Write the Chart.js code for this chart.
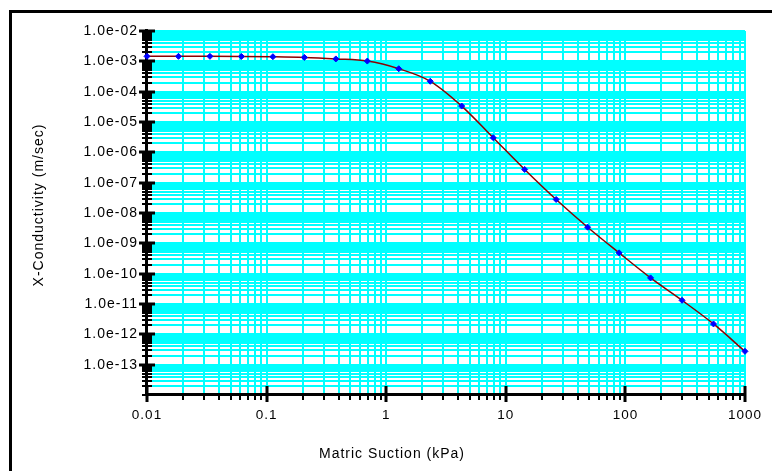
<!DOCTYPE html>
<html>
<head>
<meta charset="utf-8">
<script src="https://cdn.jsdelivr.net/npm/chart.js@4.4.1/dist/chart.umd.min.js"></script>
<style>
  html, body { margin: 0; padding: 0; background: #fff; overflow: hidden; }
  #marco { position: absolute; left: 9px; top: 10px; width: 800px; height: 500px; border-left: 3px solid #000; border-top: 3px solid #000; }
  #grafico { position: absolute; left: 0; top: 0; }
  .titulo { position: absolute; font: 14px "Liberation Sans", Arial, sans-serif; letter-spacing: 1px; color: #000; white-space: nowrap; text-align: center; width: 240px; line-height: 16px; }
  #tituloX { left: 272px; top: 445px; }
  #tituloY { left: -82px; top: 197px; transform: rotate(-90deg); }
</style>
</head>
<body>
<div id="marco"></div>
<canvas id="grafico" width="772" height="471"></canvas>
<div id="tituloX" class="titulo">Matric Suction (kPa)</div>
<div id="tituloY" class="titulo">X-Conductivity (m/sec)</div>
<script>
// Datos
const succion = [0.01, 0.01833, 0.0336, 0.06158, 0.1129, 0.2069, 0.3793, 0.6952, 1.274, 2.336,
                 4.281, 7.848, 14.38, 26.37, 48.33, 88.59, 162.4, 297.6, 545.6, 1000];
const conductividad = [1.46e-3, 1.46e-3, 1.46e-3, 1.45e-3, 1.42e-3, 1.35e-3, 1.2e-3, 1.02e-3, 5.7e-4, 2.2e-4,
                       3.35e-5, 3.03e-6, 2.73e-7, 2.79e-8, 3.4e-9, 4.85e-10, 7.26e-11, 1.32e-11, 2.2e-12, 2.75e-13];

// Marcas de los ejes
const mayoresX = [0.01, 0.1, 1, 10, 100, 1000];
const etiquetasX = ['0.01', '0.1', '1', '10', '100', '1000'];
const mayoresY = [1e-13, 1e-12, 1e-11, 1e-10, 1e-9, 1e-8, 1e-7, 1e-6, 1e-5, 1e-4, 1e-3, 1e-2];
const etiquetasY = ['1.0e-13', '1.0e-12', '1.0e-11', '1.0e-10', '1.0e-09', '1.0e-08', '1.0e-07',
                    '1.0e-06', '1.0e-05', '1.0e-04', '1.0e-03', '1.0e-02'];
const multiplicadores = [1, 2, 3, 4, 5, 6, 7, 8, 9];

const fuente = '"Liberation Sans", Arial, sans-serif';

// Lista de marcas 1..9 por década
function construirTicks(expMin, expMax) {
    const lista = [];
    for (let e = expMin; e < expMax; e++) {
        multiplicadores.forEach(function (m) {
            lista.push(Number(m + 'e' + e));
        });
    }
    lista.push(Number('1e' + expMax));
    return lista;
}

const ticksX = construirTicks(-2, 3);
const ticksY = construirTicks(-14, -2);

// Espaciado de letras como en el original
const espaciado = {
    id: 'espaciado',
    beforeDraw(chart) {
        chart.ctx.letterSpacing = '1px';
    }
};

// Ejes negros con marcas mayores y menores
const ejes = {
    id: 'ejes',
    beforeDatasetsDraw(chart) {
        const ctx = chart.ctx;
        const area = chart.chartArea;
        const x = chart.scales.x;
        const y = chart.scales.y;
        const x0 = x.getPixelForValue(0.01);
        const y0 = area.bottom;
        ctx.save();
        ctx.fillStyle = '#000';
        ctx.fillRect(x0 - 2, area.top - 2, 3, y0 - area.top + 3);
        ctx.fillRect(x0 - 2, y0 - 2, area.right - x0 + 3, 3);
        ticksY.forEach(function (v) {
            const py = Math.round(y.getPixelForValue(v));
            if (mayoresY.indexOf(v) >= 0) {
                ctx.fillRect(x0 - 8, py - 1.5, 16, 3);
            } else {
                ctx.fillRect(x0 - 5, py - 1, 10, 2);
            }
        });
        ticksX.forEach(function (v) {
            const px = Math.round(x.getPixelForValue(v));
            if (mayoresX.indexOf(v) >= 0) {
                ctx.fillRect(px - 1.5, y0 - 9, 3, 16);
            } else {
                ctx.fillRect(px - 1, y0 - 2, 2, 7);
            }
        });
        ctx.restore();
    }
};

const ctxGrafico = document.getElementById('grafico').getContext('2d');
const grafico = new Chart(ctxGrafico, {
    type: 'line',
    data: {
        datasets: [{
            data: succion.map(function (s, i) { return { x: s, y: conductividad[i] }; }),
            borderColor: '#8B0000',
            borderWidth: 1.5,
            cubicInterpolationMode: 'monotone',
            pointStyle: 'rectRot',
            pointRadius: 3,
            pointBackgroundColor: '#0000FF',
            pointBorderColor: '#0000FF',
            pointBorderWidth: 1,
            clip: false
        }]
    },
    options: {
        responsive: false,
        animation: false,
        devicePixelRatio: 1,
        layout: { padding: { top: 31, right: 27, left: 0, bottom: 0 } },
        plugins: {
            legend: { display: false },
            tooltip: { enabled: false }
        },
        scales: {
            x: {
                type: 'logarithmic',
                min: 0.01,
                max: 1000,
                afterBuildTicks: function (escala) {
                    escala.ticks = ticksX.map(function (v) { return { value: v }; });
                },
                afterFit: function (escala) { escala.height = 76; },
                grid: { color: '#00FFFF', lineWidth: 2, drawTicks: false },
                border: { display: false },
                ticks: {
                    autoSkip: false,
                    maxRotation: 0,
                    padding: 12,
                    color: '#000',
                    font: { family: fuente, size: 13.5 },
                    callback: function (valor) {
                        const i = mayoresX.indexOf(valor);
                        return i >= 0 ? etiquetasX[i] : '';
                    }
                }
            },
            y: {
                type: 'logarithmic',
                min: 1e-14,
                max: 1e-2,
                afterBuildTicks: function (escala) {
                    escala.ticks = ticksY.map(function (v) { return { value: v }; });
                },
                afterFit: function (escala) { escala.width = 147; },
                grid: { color: '#00FFFF', lineWidth: 2, drawTicks: false },
                border: { display: false },
                ticks: {
                    autoSkip: false,
                    padding: 9,
                    color: '#000',
                    font: { family: fuente, size: 14 },
                    callback: function (valor) {
                        const i = mayoresY.indexOf(valor);
                        return i >= 0 ? etiquetasY[i] : '';
                    }
                }
            }
        }
    },
    plugins: [espaciado, ejes]
});
</script>
</body>
</html>
